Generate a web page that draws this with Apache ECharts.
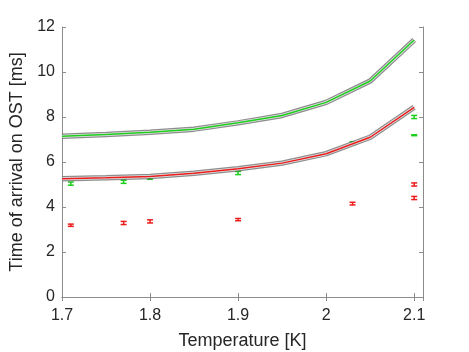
<!DOCTYPE html>
<html>
<head>
<meta charset="utf-8">
<script src="https://cdn.jsdelivr.net/npm/echarts@6/dist/echarts.min.js"></script>
<style>
  html, body { margin: 0; padding: 0; background: #fff; }
  #chart { width: 469px; height: 352px; }
</style>
</head>
<body>
<div id="chart"></div>
<script>
// model curves (temperature grid)
const curveTemps = [1.7, 1.75, 1.8, 1.85, 1.9, 1.95, 2.0, 2.05, 2.1];
const greenCurve = [7.14, 7.22, 7.32, 7.46, 7.74, 8.07, 8.65, 9.6, 11.42];
const redCurve = [5.26, 5.3, 5.36, 5.5, 5.7, 5.95, 6.37, 7.1, 8.43];

// measured points with error
const greenTemps = [1.71, 1.77, 1.8, 1.9, 2.03, 2.1, 2.1];
const greenVals = [5.04, 5.12, 5.29, 5.51, 6.84, 8.0, 7.19];
const greenErrs = [0.07, 0.07, 0.06, 0.07, 0.06, 0.07, 0.02];
const redTemps = [1.71, 1.77, 1.8, 1.9, 2.03, 2.1, 2.1];
const redVals = [3.19, 3.29, 3.36, 3.44, 4.15, 5.0, 4.4];
const redErrs = [0.05, 0.07, 0.07, 0.05, 0.06, 0.07, 0.07];

const GREEN = '#1ccf1c';
const RED = '#ec1c1c';
const BAND = 'rgba(80,80,80,0.65)';
const AXIS = '#8c8c8c';
const FONT = 'Liberation Sans';
const TEXT = '#262626';

const zip = (xs, ys) => xs.map((x, i) => [x, ys[i]]);
const zip3 = (xs, ys, es) => xs.map((x, i) => [x, ys[i], es[i]]);

function lineSeries(data, color, width) {
  return {
    type: 'line',
    data: data,
    symbol: 'none',
    silent: true,
    lineStyle: { color: color, width: width },
    animation: false,
  };
}

// curve drawn as grey outline, light gap, coloured core
function bandedCurve(data, color) {
  return [
    lineSeries(data, BAND, 5.5),
    lineSeries(data, '#e6e6e6', 3),
    lineSeries(data, color, 1.5),
  ];
}

function errorSeries(data, color) {
  return {
    type: 'custom',
    data: data,
    animation: false,
    renderItem(params, api) {
      const x = api.value(0);
      const y = api.value(1);
      const e = api.value(2);
      const hi = api.coord([x, y + e]);
      const lo = api.coord([x, y - e]);
      const w = 3;
      const style = { stroke: color, lineWidth: 1.5 };
      return {
        type: 'group',
        children: [
          { type: 'line', shape: { x1: hi[0], y1: hi[1], x2: lo[0], y2: lo[1] }, style: style },
          { type: 'line', shape: { x1: hi[0] - w, y1: hi[1], x2: hi[0] + w, y2: hi[1] }, style: style },
          { type: 'line', shape: { x1: lo[0] - w, y1: lo[1], x2: lo[0] + w, y2: lo[1] }, style: style },
        ],
      };
    },
  };
}

const chart = echarts.init(document.getElementById('chart'));

const baseX = {
  type: 'value',
  min: 1.7,
  max: 2.11,
  interval: 0.1,
  splitLine: { show: false },
  axisLine: { lineStyle: { color: AXIS } },
  axisTick: { inside: true, length: 4, lineStyle: { color: AXIS } },
};
const baseY = {
  type: 'value',
  min: 0,
  max: 12,
  interval: 2,
  splitLine: { show: false },
  axisLine: { show: true, lineStyle: { color: AXIS } },
  axisTick: { show: true, inside: true, length: 4, lineStyle: { color: AXIS } },
};

chart.setOption({
  backgroundColor: '#fff',
  grid: { left: 62, right: 46, top: 27, bottom: 55, outerBoundsMode: 'none' },
  xAxis: [
    Object.assign({}, baseX, {
      position: 'bottom',
      name: 'Temperature [K]',
      nameLocation: 'middle',
      nameGap: 35,
      nameTextStyle: { fontFamily: FONT, fontSize: 18, color: TEXT },
      axisLabel: { showMaxLabel: false, margin: 11, fontFamily: FONT, fontSize: 16, color: TEXT },
    }),
    Object.assign({}, baseX, {
      position: 'top',
      axisLabel: { show: false },
    }),
  ],
  yAxis: [
    Object.assign({}, baseY, {
      position: 'left',
      name: 'Time of arrival on OST [ms]',
      nameLocation: 'middle',
      nameGap: 26,
      nameTextStyle: { fontFamily: FONT, fontSize: 18, color: TEXT },
      axisLabel: { margin: 7, fontFamily: FONT, fontSize: 16, color: TEXT },
    }),
    Object.assign({}, baseY, {
      position: 'right',
      axisLabel: { show: false },
    }),
  ],
  series: [
    ...bandedCurve(zip(curveTemps, greenCurve), GREEN),
    ...bandedCurve(zip(curveTemps, redCurve), RED),
    errorSeries(zip3(greenTemps, greenVals, greenErrs), GREEN),
    errorSeries(zip3(redTemps, redVals, redErrs), RED),
  ],
});
</script>
</body>
</html>
